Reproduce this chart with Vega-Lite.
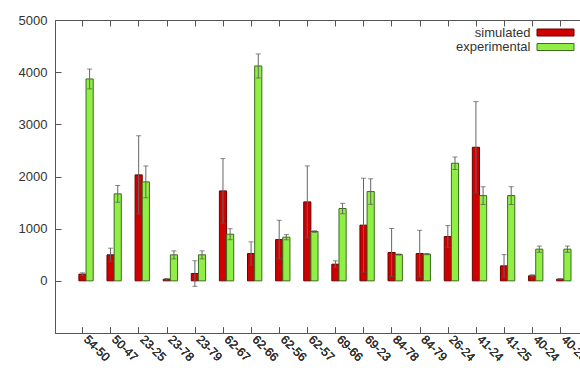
{
  "$schema": "https://vega.github.io/schema/vega-lite/v6.json",
  "width": 525,
  "height": 313,
  "autosize": {"type": "none"},
  "padding": {"left": 55, "top": 20, "right": 0, "bottom": 35},
  "background": "white",
  "config": {
    "view": {"stroke": null},
    "font": "Liberation Sans",
    "axis": {"domainColor": "#555", "tickColor": "#555", "labelColor": "#333", "grid": false, "domainWidth": 1, "tickWidth": 1},
    "axisY": {"tickSize": -6, "labelPadding": 14, "labelFontSize": 13},
    "legend": {
      "orient": "none",
      "legendX": 494,
      "legendY": 6,
      "title": null,
      "symbolType": "M-3.7,-0.7H3.7V0.7H-3.7Z",
      "symbolSize": 100,
      "symbolStrokeWidth": 1,
      "labelAlign": "right",
      "labelOffset": -31.5,
      "labelFontSize": 13,
      "labelColor": "#333",
      "rowPadding": 0.5
    }
  },
  "data": {
    "values": [
      {"pair": "54-50", "series": "simulated", "value": 128, "lo": 103, "hi": 153},
      {"pair": "54-50", "series": "experimental", "value": 3870, "lo": 3680, "hi": 4060},
      {"pair": "50-47", "series": "simulated", "value": 498, "lo": 370, "hi": 626},
      {"pair": "50-47", "series": "experimental", "value": 1667, "lo": 1507, "hi": 1827},
      {"pair": "23-25", "series": "simulated", "value": 2031, "lo": 1281, "hi": 2781},
      {"pair": "23-25", "series": "experimental", "value": 1897, "lo": 1592, "hi": 2202},
      {"pair": "23-78", "series": "simulated", "value": 30, "lo": 15, "hi": 45},
      {"pair": "23-78", "series": "experimental", "value": 498, "lo": 421, "hi": 575},
      {"pair": "23-79", "series": "simulated", "value": 140, "lo": -105, "hi": 385},
      {"pair": "23-79", "series": "experimental", "value": 498, "lo": 421, "hi": 575},
      {"pair": "62-67", "series": "simulated", "value": 1724, "lo": 1104, "hi": 2344},
      {"pair": "62-67", "series": "experimental", "value": 894, "lo": 789, "hi": 999},
      {"pair": "62-66", "series": "simulated", "value": 523, "lo": 299, "hi": 747},
      {"pair": "62-66", "series": "experimental", "value": 4119, "lo": 3889, "hi": 4349},
      {"pair": "62-56", "series": "simulated", "value": 791, "lo": 421, "hi": 1161},
      {"pair": "62-56", "series": "experimental", "value": 837, "lo": 787, "hi": 887},
      {"pair": "62-57", "series": "simulated", "value": 1513, "lo": 823, "hi": 2203},
      {"pair": "62-57", "series": "experimental", "value": 945, "lo": 930, "hi": 960},
      {"pair": "69-66", "series": "simulated", "value": 319, "lo": 254, "hi": 384},
      {"pair": "69-66", "series": "experimental", "value": 1386, "lo": 1286, "hi": 1486},
      {"pair": "69-23", "series": "simulated", "value": 1067, "lo": 167, "hi": 1967},
      {"pair": "69-23", "series": "experimental", "value": 1711, "lo": 1466, "hi": 1956},
      {"pair": "84-78", "series": "simulated", "value": 543, "lo": 83, "hi": 1003},
      {"pair": "84-78", "series": "experimental", "value": 504, "lo": 494, "hi": 514},
      {"pair": "84-79", "series": "simulated", "value": 523, "lo": 78, "hi": 968},
      {"pair": "84-79", "series": "experimental", "value": 512, "lo": 502, "hi": 522},
      {"pair": "26-24", "series": "simulated", "value": 849, "lo": 639, "hi": 1059},
      {"pair": "26-24", "series": "experimental", "value": 2254, "lo": 2134, "hi": 2374},
      {"pair": "41-24", "series": "simulated", "value": 2561, "lo": 1686, "hi": 3436},
      {"pair": "41-24", "series": "experimental", "value": 1634, "lo": 1464, "hi": 1804},
      {"pair": "41-25", "series": "simulated", "value": 287, "lo": 72, "hi": 502},
      {"pair": "41-25", "series": "experimental", "value": 1634, "lo": 1464, "hi": 1804},
      {"pair": "40-24", "series": "simulated", "value": 96, "lo": 76, "hi": 116},
      {"pair": "40-24", "series": "experimental", "value": 607, "lo": 547, "hi": 667},
      {"pair": "40-25", "series": "simulated", "value": 33, "lo": 28, "hi": 38},
      {"pair": "40-25", "series": "experimental", "value": 607, "lo": 547, "hi": 667}
    ]
  },
  "encoding": {
    "x": {
      "field": "pair", "type": "nominal", "sort": null,
      "scale": {"paddingInner": 0.49, "paddingOuter": 0.585, "align": 0.726},
      "axis": {"orient": "bottom", "title": null, "labelAngle": 45, "labelAlign": "left", "labelBaseline": "middle", "tickSize": -6, "labelPadding": 10, "bandPosition": 0.27, "labelFontSize": 12}
    },
    "xOffset": {"field": "series", "type": "nominal", "sort": ["simulated", "experimental"], "scale": {"paddingInner": 0, "paddingOuter": 0}}
  },
  "layer": [
    {
      "mark": {"type": "bar", "strokeWidth": 1},
      "encoding": {
        "y": {"field": "value", "type": "quantitative", "scale": {"domain": [-1000, 5000], "nice": false},
              "axis": {"title": null, "values": [0, 1000, 2000, 3000, 4000, 5000], "format": "d"}},
        "fill": {"field": "series", "type": "nominal", "sort": ["simulated", "experimental"], "scale": {"domain": ["simulated", "experimental"], "range": ["#cf0000", "#8fef45"]}},
        "stroke": {"field": "series", "type": "nominal", "sort": ["simulated", "experimental"], "scale": {"domain": ["simulated", "experimental"], "range": ["#6e0000", "#3d6b20"]}}
      }
    },
    {
      "mark": {"type": "rule", "color": "#666", "strokeWidth": 1},
      "encoding": {
        "x": {"field": "pair", "type": "nominal", "sort": null,
              "axis": {"orient": "top", "title": null, "labels": false, "tickSize": -6, "bandPosition": 0.27}},
        "y": {"field": "lo", "type": "quantitative", "axis": {"title": null, "values": [0, 1000, 2000, 3000, 4000, 5000], "format": "d"}},
        "y2": {"field": "hi"}
      }
    },
    {
      "mark": {"type": "tick", "color": "#555", "size": 5, "thickness": 1},
      "encoding": {"y": {"field": "lo", "type": "quantitative", "axis": {"title": null, "values": [0, 1000, 2000, 3000, 4000, 5000], "format": "d"}}}
    },
    {
      "mark": {"type": "tick", "color": "#555", "size": 5, "thickness": 1},
      "encoding": {"y": {"field": "hi", "type": "quantitative", "axis": {"title": null, "values": [0, 1000, 2000, 3000, 4000, 5000], "format": "d"}}}
    }
  ]
}
